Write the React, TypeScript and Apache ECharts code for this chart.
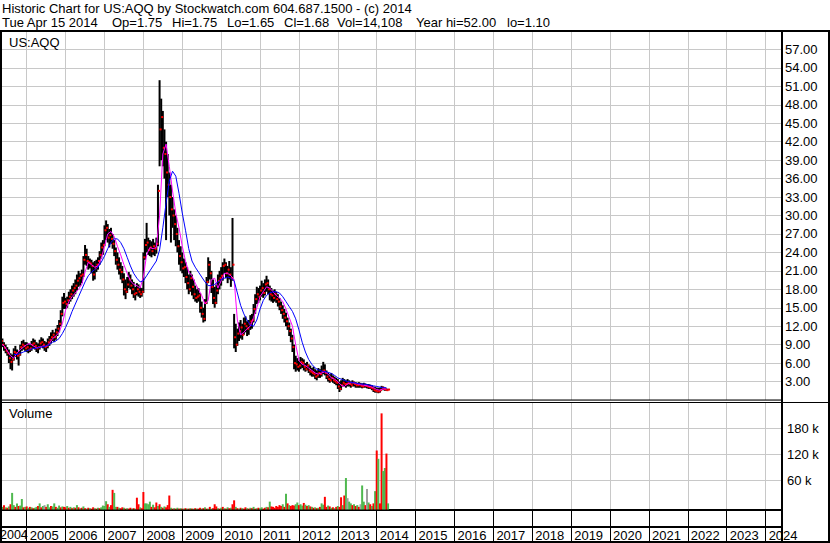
import React, { useEffect, useRef } from 'react';
import * as echarts from 'echarts';

const FONT = "'Liberation Sans', Arial, sans-serif";

// ---- header texts ----
const headerLine1 = 'Historic Chart for US:AQQ by Stockwatch.com 604.687.1500 - (c) 2014';
const headerLine2Parts = ['Tue Apr 15 2014', 'Op=1.75', 'Hi=1.75', 'Lo=1.65', 'Cl=1.68', 'Vol=14,108', 'Year hi=52.00', 'lo=1.10'];
const headerLine2X = [2, 112, 172, 227, 284, 337, 416, 507];
const symbolLabel = 'US:AQQ';
const volumeLabel = 'Volume';

// ---- axes ----
const yearTicks = [2005, 2006, 2007, 2008, 2009, 2010, 2011, 2012, 2013, 2014, 2015, 2016, 2017, 2018, 2019, 2020, 2021, 2022, 2023, 2024];
const firstYearLabel = '2004';
const volumeTicks = [60000, 120000, 180000];
const X_MIN = 2004.339;
const X_MAX = 2024.421;

// ---- price data: semi-monthly bars starting May 1 2004 (index i -> 2004 + (4 + i/2)/12) ----
const priceHigh = [
  10.5, 10.0, 9.4, 9.0, 8.6, 8.2, 7.6, 7.4, 8.4, 8.8, 8.2, 8.0, 9.0, 9.6, 9.8, 9.4,
  9.4, 9.2, 9.0, 9.6, 10.0, 9.8, 9.4, 9.2, 9.8, 10.2, 10.0, 9.6, 9.4, 10.0, 10.4, 11.0, 11.4, 11.0, 11.6, 12.2, 13.0, 14.6, 16.8, 17.4,
  16.6, 16.8, 17.6, 18.0, 18.6, 19.0, 19.6, 20.4, 21.0, 20.6, 21.2, 23.4, 25.2, 24.6, 23.4, 23.0, 22.8, 22.4, 22.6, 22.8, 23.2, 24.2, 25.6, 26.0,
  28.4, 29.2, 28.6, 27.8, 28.0, 27.0, 26.0, 24.8, 24.0, 23.2, 22.4, 21.8, 20.6, 19.6, 20.0, 20.8, 20.4, 19.6, 19.2, 18.4, 19.0, 18.8, 18.4, 18.2,
  24.0, 26.2, 28.8, 26.4, 26.0, 25.8, 26.2, 25.6, 26.4, 35.0, 52.0, 49.0, 47.0, 44.0, 42.0, 40.0, 37.0, 35.0, 33.0, 31.0, 30.0, 28.0, 26.0, 25.0,
  24.0, 23.0, 22.4, 21.6, 20.4, 21.0, 20.4, 19.6, 18.6, 18.0, 18.2, 17.4, 16.0, 15.0, 16.4, 20.0, 23.2, 22.6, 21.0, 19.6, 18.4, 18.8, 20.4, 21.0,
  21.6, 22.4, 23.0, 22.4, 21.8, 22.6, 21.6, 29.6, 14.0, 12.4, 11.6, 12.6, 13.0, 12.4, 13.4, 13.6, 12.8, 13.0, 13.8, 14.0, 15.6, 17.2, 18.4, 18.2,
  18.6, 19.4, 19.0, 19.6, 20.2, 19.6, 18.6, 18.2, 17.8, 18.0, 17.6, 17.2, 16.6, 16.0, 15.4, 14.8, 14.2, 13.4, 12.6, 11.6, 10.6, 9.0, 7.2, 6.8,
  6.4, 7.0, 6.8, 6.6, 6.0, 6.2, 5.8, 5.6, 5.2, 5.4, 5.0, 4.8, 5.2, 5.0, 5.6, 6.2, 5.8, 4.8, 4.4, 4.2, 4.4, 4.0, 3.8, 3.6,
  3.4, 3.0, 3.2, 3.6, 3.4, 3.2, 3.4, 3.2, 3.0, 3.2, 3.0, 2.9, 2.8, 2.9, 2.8, 2.7, 2.8, 2.7, 2.6, 2.6, 2.5, 2.4, 2.2, 2.1,
  2.0, 2.0, 2.0, 2.3, 2.2, 2.0, 1.9, 1.8,
];
const priceLow = [
  9.0, 8.6, 8.0, 7.6, 7.2, 6.0, 5.0, 4.8, 6.4, 7.0, 6.6, 5.6, 7.2, 8.0, 8.2, 8.0,
  7.8, 7.6, 7.8, 8.0, 8.4, 8.2, 7.8, 7.6, 8.2, 8.6, 8.4, 8.0, 7.8, 8.4, 8.8, 9.2, 9.6, 9.4, 9.8, 10.4, 11.0, 12.0, 13.6, 14.8,
  14.8, 15.0, 15.6, 16.0, 16.4, 16.8, 17.2, 17.8, 18.4, 18.6, 19.0, 20.0, 22.0, 21.8, 21.2, 21.4, 20.6, 19.4, 19.6, 20.8, 21.2, 22.0, 23.0, 23.6,
  25.0, 26.0, 25.6, 24.8, 25.4, 24.6, 23.4, 22.0, 21.2, 20.4, 19.6, 19.0, 17.0, 16.4, 17.4, 18.2, 18.0, 17.2, 16.6, 16.2, 17.0, 16.8, 16.6, 16.8,
  17.4, 22.8, 24.0, 23.6, 23.4, 23.2, 23.6, 23.4, 23.8, 25.0, 38.0, 39.0, 38.0, 36.0, 26.0, 33.0, 30.0, 25.6, 28.0, 26.0, 25.0, 24.0, 22.0, 21.0,
  20.6, 20.0, 19.0, 18.0, 17.2, 17.6, 17.0, 16.4, 16.0, 15.8, 16.0, 14.2, 13.4, 12.6, 12.8, 15.6, 19.0, 19.6, 17.4, 15.6, 15.0, 15.6, 17.2, 18.0,
  18.6, 19.4, 20.6, 19.8, 19.0, 19.6, 18.4, 19.4, 8.4, 7.8, 8.8, 9.6, 10.0, 9.8, 10.6, 11.0, 10.4, 10.6, 11.4, 11.6, 12.6, 14.0, 15.6, 15.8,
  16.2, 16.8, 16.6, 17.0, 17.6, 17.2, 16.2, 16.0, 15.8, 16.0, 15.8, 15.2, 14.6, 14.0, 13.2, 12.6, 12.0, 11.4, 10.4, 9.4, 7.8, 5.0, 4.6, 4.8,
  4.6, 5.0, 5.2, 4.8, 4.6, 4.8, 4.4, 4.0, 3.8, 3.8, 3.4, 3.2, 3.6, 3.6, 3.8, 4.2, 4.0, 3.4, 3.0, 2.8, 3.0, 2.8, 2.6, 2.4,
  1.8, 1.3, 1.6, 2.2, 2.2, 2.0, 2.2, 2.2, 2.0, 2.2, 2.2, 2.0, 2.0, 2.0, 2.0, 1.9, 2.0, 2.0, 1.9, 1.8, 1.8, 1.6, 1.3, 1.2,
  1.2, 1.1, 1.2, 1.6, 1.6, 1.5, 1.5, 1.6,
];
const priceClose = [
  9.6, 9.0, 8.5, 8.0, 7.6, 6.8, 6.2, 6.6, 7.8, 7.6, 7.2, 7.4, 8.6, 9.0, 8.8, 8.4,
  8.6, 8.2, 8.4, 9.0, 9.2, 8.8, 8.4, 8.6, 9.2, 9.4, 9.0, 8.6, 8.8, 9.4, 9.8, 10.2, 10.6, 10.2, 11.0, 11.6, 12.4, 14.0, 15.8, 16.0,
  15.6, 16.2, 16.8, 17.2, 17.8, 18.2, 18.6, 19.4, 19.8, 20.2, 20.4, 22.8, 23.6, 22.6, 22.4, 22.2, 21.8, 20.4, 21.4, 22.0, 22.6, 23.6, 24.8, 25.2,
  27.6, 28.0, 26.4, 26.8, 26.2, 25.4, 24.2, 22.8, 22.0, 21.2, 20.8, 19.6, 18.0, 17.6, 18.8, 19.6, 18.6, 18.0, 17.2, 17.4, 18.0, 17.6, 17.2, 17.6,
  23.2, 25.2, 25.6, 24.4, 24.8, 24.2, 25.0, 24.6, 25.4, 34.0, 44.0, 46.0, 41.0, 40.0, 37.0, 35.0, 33.0, 31.0, 30.0, 28.6, 27.0, 25.0, 23.4, 22.4,
  21.4, 21.6, 20.0, 19.0, 18.0, 19.8, 18.4, 17.2, 16.6, 16.8, 17.0, 15.0, 14.0, 13.2, 15.8, 19.2, 22.0, 20.6, 18.4, 16.6, 15.8, 17.8, 19.4, 19.8,
  20.2, 21.8, 22.0, 20.6, 21.2, 20.4, 19.8, 22.0, 10.2, 9.0, 10.8, 11.2, 11.8, 10.6, 12.4, 12.0, 11.6, 12.4, 12.8, 13.0, 14.8, 16.4, 17.2, 16.8,
  17.8, 18.2, 17.4, 18.8, 19.0, 18.0, 17.2, 17.0, 16.6, 17.2, 16.4, 16.0, 15.2, 14.6, 14.0, 13.4, 12.8, 12.0, 11.2, 10.0, 8.6, 6.0, 5.8, 5.4,
  5.6, 6.2, 6.0, 5.4, 5.0, 5.6, 4.8, 4.6, 4.4, 4.2, 3.8, 4.0, 4.4, 4.2, 4.6, 4.8, 4.4, 3.8, 3.4, 3.2, 3.6, 3.2, 3.0, 2.8,
  2.2, 1.8, 2.4, 2.8, 2.6, 2.6, 2.8, 2.6, 2.4, 2.8, 2.6, 2.4, 2.4, 2.5, 2.3, 2.2, 2.4, 2.3, 2.2, 2.1, 2.0, 1.9, 1.6, 1.5,
  1.4, 1.4, 1.6, 2.0, 1.8, 1.7, 1.6, 1.7,
];

// ---- moving averages: monthly points starting May 2004 (index j -> 2004 + (4 + j)/12) ----
const maFast = [
  9.2, 8.8, 8.0, 7.2, 6.8, 7.6, 8.2, 8.6, 9.0, 9.2,
  8.8, 8.5, 8.6, 8.8, 8.7, 9.2, 10.0, 10.4, 11.0, 12.4,
  14.6, 16.0, 16.8, 17.4, 18.0, 18.8, 20.8, 22.4, 22.0, 21.6,
  21.8, 23.0, 25.0, 27.0, 27.4, 26.6, 25.0, 23.6, 22.0, 20.6,
  19.4, 18.8, 18.6, 18.2, 20.0, 23.6, 24.8, 24.6, 24.8, 30.0,
  40.0, 41.6, 38.0, 34.0, 30.4, 28.0, 25.0, 22.6, 20.8, 20.2,
  19.0, 18.0, 17.0, 15.6, 16.2, 19.6, 19.8, 18.2, 19.4, 20.6,
  20.6, 20.2, 19.6, 13.0, 10.6, 11.0, 11.6, 12.0, 13.4, 15.0,
  16.8, 17.6, 18.4, 18.2, 17.6, 17.0, 16.6, 16.0, 14.8, 13.4,
  12.0, 9.0, 6.4, 5.8, 5.6, 5.2, 4.8, 4.4, 4.2, 4.4,
  4.6, 4.2, 3.6, 3.4, 3.0, 2.4, 2.2, 2.6, 2.8, 2.8,
  2.6, 2.5, 2.4, 2.3, 2.2, 2.0, 1.7, 1.6, 1.8, 1.8,
];
const maSlow = [
  null, null, null, null, 7.4, 7.4, 7.6, 7.8, 8.0, 8.2,
  8.4, 8.4, 8.6, 8.6, 8.8, 9.0, 9.4, 9.6, 10.0, 10.8,
  11.8, 13.0, 14.4, 15.6, 16.8, 18.0, 19.2, 20.2, 20.8, 21.2,
  21.6, 22.4, 23.4, 24.6, 25.6, 26.2, 26.2, 25.6, 24.6, 23.2,
  21.8, 20.6, 19.8, 19.2, 19.4, 20.2, 21.0, 21.8, 22.6, 24.4,
  28.0, 32.0, 35.6, 37.2, 36.4, 33.6, 30.4, 27.6, 24.6, 22.6,
  21.6, 20.8, 20.0, 19.2, 18.6, 18.6, 18.8, 19.2, 19.6, 19.8,
  20.0, 19.8, 19.4, 17.4, 15.4, 14.0, 13.0, 12.2, 12.0, 13.0,
  14.8, 16.2, 17.0, 17.4, 17.6, 17.6, 17.4, 16.8, 16.0, 15.2,
  14.4, 13.2, 11.4, 9.4, 7.8, 6.6, 5.8, 5.2, 4.9, 4.7,
  4.6, 4.5, 4.3, 4.0, 3.6, 3.4, 3.2, 3.0, 2.9, 2.8,
  2.7, 2.6, 2.6, 2.5, 2.4, 2.3, 2.2, 2.1, 2.0, 2.0,
];

// ---- volume (thousands of shares), semi-monthly, with direction g=up r=down n=unchanged ----
const volumeK = [
  8, 6, 10, 5, 4, 7, 12, 38, 10, 6, 14, 8, 9, 24, 5, 6,
  7, 4, 6, 5, 3, 4, 6, 8, 14, 5, 8, 10, 6, 12, 5, 8, 7, 14, 6, 4, 9, 5, 7, 6,
  5, 8, 4, 6, 3, 5, 4, 10, 5, 3, 4, 7, 3, 2, 4, 3, 2, 5, 3, 2, 4, 3, 5, 9,
  8, 19, 12, 6, 10, 45, 38, 6, 6, 4, 3, 5, 4, 2, 3, 2, 4, 2, 3, 2, 27, 12, 5, 3,
  40, 14, 14, 12, 18, 6, 11, 5, 16, 8, 12, 6, 4, 7, 5, 10, 32, 4, 2, 3, 2, 4, 2, 3,
  2, 2, 3, 2, 2, 3, 2, 2, 3, 2, 2, 4, 2, 3, 5, 2, 2, 6, 2, 3, 12, 7, 3, 2,
  4, 6, 3, 2, 5, 3, 4, 12, 21, 6, 3, 2, 4, 3, 2, 5, 3, 2, 4, 3, 6, 2, 3, 4,
  3, 5, 2, 4, 6, 5, 18, 7, 6, 4, 8, 6, 10, 8, 12, 6, 36, 14, 10, 8, 10, 9, 12, 16,
  10, 12, 9, 15, 11, 8, 10, 7, 6, 4, 5, 3, 4, 6, 14, 11, 29, 6, 9, 7, 4, 5, 3, 6,
  8, 6, 28, 10, 32, 72, 26, 18, 14, 10, 12, 8, 10, 6, 12, 55, 18, 10, 47, 16, 12, 8, 14, 42,
  135, 116, 14, 220, 88, 95, 128, 14,
];
const volumeDir = (
  'rgrgrgrggrgrggrg' +
  'rgrgrggrgrgnrggrggrggrgr' +
  'rgrgrgrgrgrgrgrgrrgrgrgg' +
  'ggrgrrggrgrrgrgrrgrgrrgr' +
  'rggggrgrrgrgrgrrrgrgrgrg' +
  'rgrgrgrgrgrrgrgrgrgrrrgr' +
  'grgrgrgrrgrgrgrrgrgrgrgr' +
  'ggrrgrgrrrrrrrgrgrgrrrgg' +
  'rggrgrgrgrgrgrggrrgrgrgr' +
  'grrgrgnggrgrgrnggrngrgrg' +
  'rgrrggrg'
).split('');

const GRID = '#c8c8c8';
const VOL_COLORS: Record<string, string> = { g: '#4fb84f', r: '#ff0000', n: '#a0a0a0' };

const halfMonthYear = (i: number) => 2004 + (4 + i / 2) / 12;
const monthYear = (j: number) => 2004 + (4 + j) / 12;

export default function App() {
  const ref = useRef<HTMLDivElement>(null);

  useEffect(() => {
    if (!ref.current) return;
    const chart = echarts.init(ref.current, null, { renderer: 'svg' });

    const rangeData = priceHigh.map((h, i) => [halfMonthYear(i), priceLow[i], h]);
    const closeData = priceClose.map((c, i) => [halfMonthYear(i), c]);
    const fastData = maFast.map((v, j) => [monthYear(j), v]);
    const slowData = maSlow
      .map((v, j) => (v == null ? null : [monthYear(j), v]))
      .filter((d) => d != null);
    const volData = volumeK.map((v, i) => ({
      value: [halfMonthYear(i), v * 1000],
      itemStyle: { color: VOL_COLORS[volumeDir[i]] },
    }));

    const lbl = { color: '#000', fontSize: 13, fontFamily: FONT };
    const frame = (x: number, y: number, w: number, h: number) => ({
      type: 'rect',
      z: 100,
      silent: true,
      shape: { x, y, width: w, height: h },
      style: { fill: '#000' },
    });
    const txt = (text: string, x: number, y: number, size = 13) => ({
      type: 'text',
      z: 100,
      silent: true,
      x,
      y,
      style: {
        text,
        fill: '#000',
        fontSize: size,
        lineHeight: 12,
        fontFamily: FONT,
        verticalAlign: 'middle',
        align: 'left',
      },
    });

    const option: any = {
      animation: false,
      backgroundColor: '#fff',
      textStyle: { fontFamily: FONT },
      grid: [
        { left: 1, top: 31, width: 781, height: 369, show: false, outerBoundsMode: 'none', containLabel: false },
        { left: 1, top: 402, width: 781, height: 107.5, show: false, outerBoundsMode: 'none', containLabel: false },
      ],
      xAxis: [
        {
          gridIndex: 0,
          type: 'value',
          min: X_MIN,
          max: X_MAX,
          axisLine: { show: false },
          axisTick: { show: false, customValues: yearTicks },
          axisLabel: { show: false, customValues: yearTicks },
          splitLine: { show: true, lineStyle: { color: GRID, width: 1 } },
        },
        {
          gridIndex: 1,
          type: 'value',
          position: 'bottom',
          min: X_MIN,
          max: X_MAX,
          axisLine: { show: true, onZero: false, lineStyle: { color: '#000', width: 2 } },
          axisTick: { show: true, customValues: yearTicks, length: 33, lineStyle: { color: '#000', width: 1 } },
          axisLabel: {
            show: true,
            customValues: yearTicks,
            formatter: (v: number) => String(v),
            align: 'left',
            margin: 19,
            padding: [0, 0, 0, 3],
            hideOverlap: false,
            ...lbl,
          },
          splitLine: { show: true, lineStyle: { color: GRID, width: 1 } },
        },
      ],
      yAxis: [
        {
          gridIndex: 0,
          type: 'value',
          position: 'right',
          min: 0,
          max: 60,
          interval: 3,
          axisLine: { show: false },
          axisTick: { show: false },
          axisLabel: {
            showMinLabel: false,
            showMaxLabel: false,
            formatter: (v: number) => v.toFixed(2),
            margin: 3,
            ...lbl,
          },
          splitLine: { show: true, lineStyle: { color: GRID, width: 1 } },
        },
        {
          gridIndex: 1,
          type: 'value',
          min: 0,
          max: 246000,
          show: false,
        },
        {
          gridIndex: 1,
          type: 'value',
          position: 'right',
          min: -6000,
          max: 240000,
          axisLine: { show: false },
          axisTick: { show: false, customValues: volumeTicks },
          axisLabel: {
            customValues: volumeTicks,
            formatter: (v: number) => `${v / 1000} k`,
            margin: 5,
            ...lbl,
          },
          splitLine: { show: true, lineStyle: { color: GRID, width: 1 } },
        },
      ],
      series: [
        {
          type: 'custom',
          xAxisIndex: 0,
          yAxisIndex: 0,
          data: rangeData,
          encode: { x: 0, y: [1, 2] },
          clip: true,
          silent: true,
          z: 2,
          renderItem: (params: any, api: any) => {
            const x = api.value(0);
            const lo = api.coord([x, api.value(1)]);
            const hi = api.coord([x, api.value(2)]);
            return {
              type: 'rect',
              shape: { x: hi[0] - 1, y: hi[1], width: 2, height: Math.max(1, lo[1] - hi[1]) },
              style: { fill: '#000' },
            };
          },
        },
        {
          type: 'custom',
          xAxisIndex: 0,
          yAxisIndex: 0,
          data: closeData,
          encode: { x: 0, y: 1 },
          clip: true,
          silent: true,
          z: 3,
          renderItem: (params: any, api: any) => {
            const p = api.coord([api.value(0), api.value(1)]);
            return {
              type: 'rect',
              shape: { x: p[0], y: p[1] - 1, width: 2, height: 2 },
              style: { fill: '#ff0000' },
            };
          },
        },
        {
          type: 'line',
          xAxisIndex: 0,
          yAxisIndex: 0,
          data: fastData,
          showSymbol: false,
          symbol: 'none',
          silent: true,
          z: 4,
          lineStyle: { color: '#ff00ff', width: 1 },
        },
        {
          type: 'line',
          xAxisIndex: 0,
          yAxisIndex: 0,
          data: slowData,
          showSymbol: false,
          symbol: 'none',
          silent: true,
          z: 5,
          lineStyle: { color: '#0000ff', width: 1 },
        },
        {
          type: 'bar',
          xAxisIndex: 1,
          yAxisIndex: 1,
          data: volData,
          barWidth: 2,
          silent: true,
          z: 2,
        },
      ],
      graphic: [
        frame(0, 30, 830, 2),
        frame(0, 32, 2, 511),
        frame(781, 32, 2, 511),
        frame(828, 32, 2, 511),
        frame(0, 399.5, 782, 1),
        frame(0, 402, 830, 1),
        frame(0, 526, 782, 2),
        frame(0, 541, 830, 2),
        txt(headerLine1, 2, 8.5),
        ...headerLine2Parts.map((t, k) => txt(t, headerLine2X[k], 22)),
        txt(symbolLabel, 9, 42),
        txt(volumeLabel, 9, 413),
        txt(firstYearLabel, 0, 535, 12.5),
      ],
    };

    chart.setOption(option);
    return () => chart.dispose();
  }, []);

  return (
    <div
      ref={ref}
      style={{ position: 'absolute', left: 0, top: 0, width: 830, height: 543, background: '#fff' }}
    />
  );
}
